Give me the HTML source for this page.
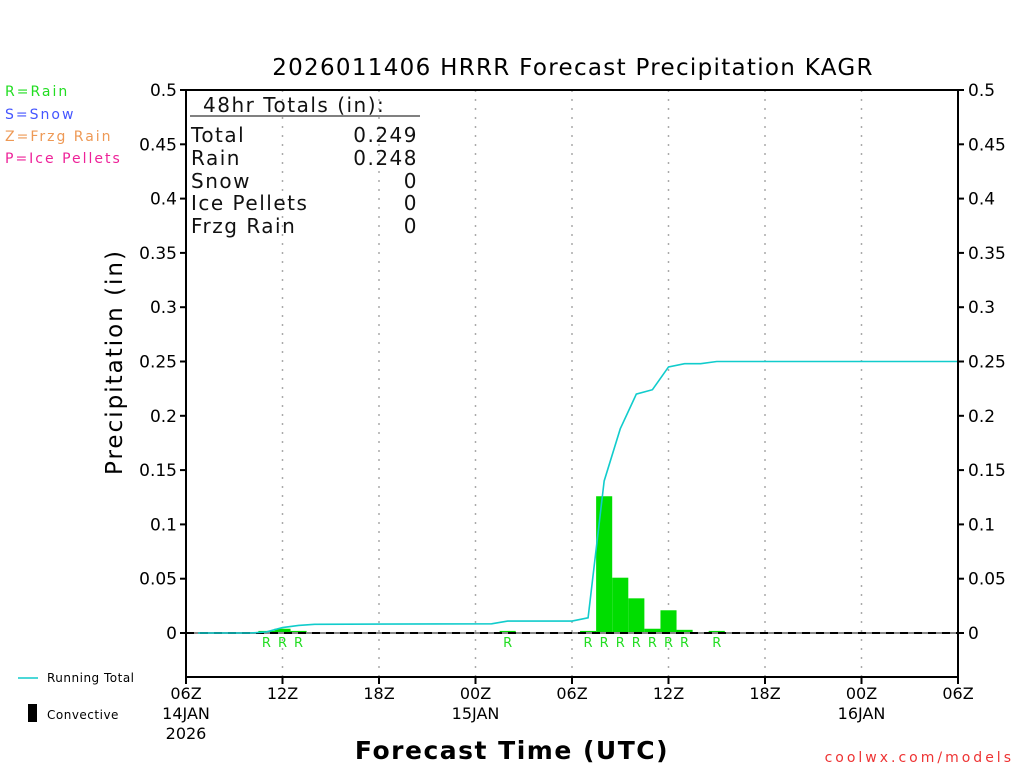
<!DOCTYPE html>
<html><head><meta charset="utf-8"><style>
body{margin:0;background:#fff;}
svg text{font-family:"DejaVu Sans","Liberation Sans",sans-serif;}
</style></head><body>
<svg id="chart" width="1024" height="768" viewBox="0 0 1024 768" xmlns="http://www.w3.org/2000/svg">
<rect width="1024" height="768" fill="#fff"/>
<text x="573" y="75" font-size="23" text-anchor="middle" letter-spacing="1.3" fill="#000">2026011406 HRRR Forecast Precipitation KAGR</text>
<g font-size="14" letter-spacing="2">
<text x="5" y="96" fill="#22dd22">R=Rain</text>
<text x="5" y="119" fill="#4455ff">S=Snow</text>
<text x="5" y="141" fill="#ee9955">Z=Frzg Rain</text>
<text x="5" y="163" fill="#ee2299">P=Ice Pellets</text>
</g>
<g id="grid"></g>
<g id="bars"></g>
<line x1="186" y1="633" x2="958" y2="633" stroke="#888" stroke-width="2"/>
<line x1="186" y1="633" x2="958" y2="633" stroke="#000" stroke-width="2" stroke-dasharray="8,6"/>
<polyline id="total-line" fill="none" stroke="#11cccc" stroke-width="1.6"/>
<g id="rlabels" font-size="13" fill="#22dd22" text-anchor="middle"></g>
<rect x="186" y="90" width="772" height="587" fill="none" stroke="#000" stroke-width="2"/>
<g id="yticks" font-size="17" fill="#000"></g>
<g id="xticks" font-size="16" fill="#000" text-anchor="middle"></g>
<g font-size="20" fill="#111" letter-spacing="1.5" style="font-family:'Liberation Sans',sans-serif">
<text x="203" y="112">48hr Totals (in):</text>
<line x1="190" y1="116" x2="420" y2="116" stroke="#000" stroke-width="1"/>
<text x="191" y="142">Total</text><text x="418" y="142" text-anchor="end">0.249</text>
<text x="191" y="165">Rain</text><text x="418" y="165" text-anchor="end">0.248</text>
<text x="191" y="188">Snow</text><text x="418" y="188" text-anchor="end">0</text>
<text x="191" y="210">Ice Pellets</text><text x="418" y="210" text-anchor="end">0</text>
<text x="191" y="233">Frzg Rain</text><text x="418" y="233" text-anchor="end">0</text>
</g>
<text transform="translate(122,362) rotate(-90)" font-size="23" text-anchor="middle" letter-spacing="2" fill="#000">Precipitation (in)</text>
<text x="512" y="759" font-size="25" font-weight="bold" text-anchor="middle" letter-spacing="1.5" fill="#000">Forecast Time (UTC)</text>
<g font-size="12" fill="#000" letter-spacing="0.5">
<line x1="18" y1="678" x2="38" y2="678" stroke="#11cccc" stroke-width="1.5"/>
<text x="47" y="682">Running Total</text>
<rect x="28" y="704" width="9" height="18" fill="#000"/>
<text x="47" y="719">Convective</text>
</g>
<text x="1014" y="762" font-size="14" text-anchor="end" fill="#ee3333" letter-spacing="3">coolwx.com/models</text>
</svg>
<script>
const yTicks=[0,0.05,0.1,0.15,0.2,0.25,0.3,0.35,0.4,0.45,0.5];
const yTickLabels=["0","0.05","0.1","0.15","0.2","0.25","0.3","0.35","0.4","0.45","0.5"];
const xTickHours=[0,6,12,18,24,30,36,42,48];
const xTickLabels=["06Z","12Z","18Z","00Z","06Z","12Z","18Z","00Z","06Z"];
const xDateLabels=["14JAN\n2026","","","15JAN","","","","16JAN",""];
const barHours=[5,6,7,20,25,26,27,28,29,30,31,33];
const barValues=[0.001,0.003,0.001,0.001,0.001,0.125,0.05,0.031,0.003,0.02,0.002,0.001];
const totalHours=[0.75,2,3,4,5,6,7,8,19,20,24,25,26,27,28,29,30,31,32,33,48];
const totalValues=[0,0,0,0,0.001,0.005,0.007,0.008,0.0085,0.011,0.011,0.014,0.14,0.188,0.22,0.224,0.245,0.248,0.248,0.25,0.25];
const X0=186,X1=958,Y0=633,YT=90;
const xs=h=>X0+(X1-X0)*h/48;
const ys=v=>Y0-(Y0-YT)*v/0.5;
const NS="http://www.w3.org/2000/svg";
function mk(tag,parent,attrs){const e=document.createElementNS(NS,tag);for(const k in attrs)e.setAttribute(k,attrs[k]);parent.appendChild(e);return e;}
const grid=document.getElementById('grid');
xTickHours.forEach((h,i)=>{if(i>0&&i<xTickHours.length-1){const l=mk('line',grid,{x1:xs(h),y1:YT,x2:xs(h),y2:677,stroke:'#aaa','stroke-width':1.5,'stroke-dasharray':'2,7'});

}});
const bars=document.getElementById('bars');
const hw=(X1-X0)/48/2;
barHours.forEach((h,i)=>{const v=barValues[i];const r=mk('rect',bars,{x:xs(h)-hw,y:ys(v)-1,width:hw*2,height:Y0-ys(v)+1,fill:'#00dd00'});


const t=mk('text',document.getElementById('rlabels'),{x:xs(h),y:647});t.textContent='R';

});
document.getElementById('total-line').setAttribute('points',totalHours.map((h,i)=>xs(h)+','+ys(totalValues[i])).join(' '));
const yt=document.getElementById('yticks');
yTicks.forEach((v,i)=>{const y=ys(v);
mk('line',yt,{x1:X0-6,y1:y,x2:X0,y2:y,stroke:'#000','stroke-width':2});
mk('line',yt,{x1:X1,y1:y,x2:X1+6,y2:y,stroke:'#000','stroke-width':2});
const a=mk('text',yt,{x:X0-9,y:y+6,'text-anchor':'end'});a.textContent=yTickLabels[i];


const b=mk('text',yt,{x:X1+10,y:y+6});b.textContent=yTickLabels[i];

});
const xt=document.getElementById('xticks');
xTickHours.forEach((h,i)=>{const x=xs(h);
mk('line',xt,{x1:x,y1:677,x2:x,y2:684,stroke:'#000','stroke-width':2});
const t=mk('text',xt,{x:x,y:699});t.textContent=xTickLabels[i];


xDateLabels[i].split('\n').forEach((s,j)=>{if(!s)return;const d=mk('text',xt,{x:x,y:719+j*20});d.textContent=s;

});});
</script>
</body></html>
